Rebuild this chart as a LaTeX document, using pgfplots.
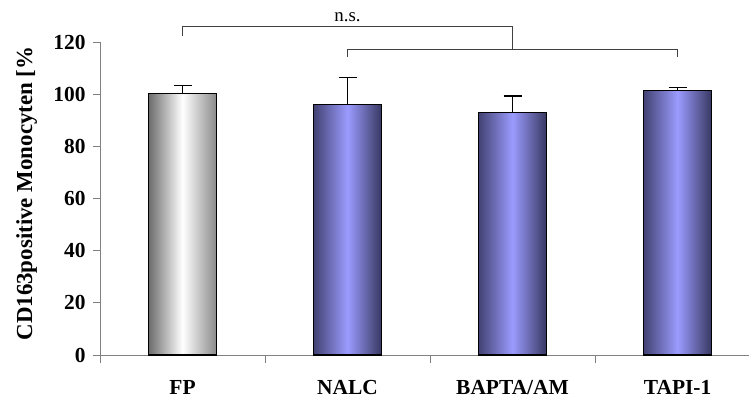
\documentclass[border=0pt]{standalone}
\usepackage{pgfplots}
\pgfplotsset{compat=1.18}
\usepackage{fontspec}
\setmainfont{Liberation Serif}
\usetikzlibrary{calc}
\definecolor{axgray}{RGB}{128,128,128}
\definecolor{bluemid}{RGB}{155,155,255}
\definecolor{blueedge}{RGB}{66,66,115}
\definecolor{grayedge}{RGB}{108,108,108}
\begin{document}
\begin{tikzpicture}
\begin{axis}[
  scale only axis, width=649bp, height=313bp,
  xmin=-0.5, xmax=3.433, ymin=0, ymax=120,
  clip=false,
  axis x line=bottom, axis y line=left,
  axis line style={-, draw=axgray, line width=1pt},
  tick align=outside,
  major tick length=7bp,
  ytick={0,20,...,120},
  y tick style={draw=axgray, line width=1pt},
  xtick={0,1,2,3},
  xticklabels={FP,NALC,BAPTA/AM,TAPI-1},
  x tick style={draw=none},
  extra x ticks={-0.5,0.5,1.5,2.5},
  extra x tick labels={},
  extra x tick style={major tick length=8bp, x tick style={draw=axgray, line width=1pt}},
  /pgf/number format/assume math mode=true,
  xticklabel style={font=\fontsize{21.5}{25}\selectfont\bfseries, yshift=-15bp},
  yticklabel style={font=\fontsize{21.5}{25}\selectfont\bfseries, xshift=-4bp},
  ylabel={CD163positive Monocyten [\%},
  ylabel style={font=\fontsize{23}{27}\selectfont\bfseries, at={(axis description cs:-0.113,0.516)}, anchor=center, rotate=0},
  bar width=68bp,
]
\addplot[ybar, bar shift=0pt, draw=none, forget plot,
  left color=grayedge, right color=grayedge!80!white, middle color=white]
  coordinates {(0,100.2)};
\addplot[ybar, bar shift=0pt, draw=none, forget plot,
  left color=blueedge, right color=blueedge!85!black, middle color=bluemid]
  coordinates {(1,96.0)};
\addplot[ybar, bar shift=0pt, draw=none, forget plot,
  left color=blueedge, right color=blueedge!85!black, middle color=bluemid]
  coordinates {(2,92.9)};
\addplot[ybar, bar shift=0pt, draw=none, forget plot,
  left color=blueedge, right color=blueedge!85!black, middle color=bluemid]
  coordinates {(3,101.5)};
\addplot[ybar, bar shift=0pt, draw=black, fill=none, line width=1.5pt,
  error bars/.cd, y dir=plus, y explicit,
  error bar style={black, line width=1.3pt},
  error mark options={rotate=90, mark size=9bp, black, line width=1.3pt}]
  coordinates {(0,100.2) +- (0,3.0) (1,96.0) +- (0,10.4) (2,92.9) +- (0,6.4) (3,101.5) +- (0,1.0)};
\draw[black!75, line width=0.9pt] (axis cs:0,122.3) -- (axis cs:0,125.8) -- (axis cs:2,125.8) -- (axis cs:2,117.2);
\draw[black!75, line width=0.9pt] (axis cs:1,114.2) -- (axis cs:1,117.2) -- (axis cs:3,117.2) -- (axis cs:3,114.2);
\node[font=\fontsize{19}{22}\selectfont, inner sep=0pt, anchor=base] at (axis cs:1,128) {n.s.};
\end{axis}
\pgfresetboundingbox
\path[use as bounding box] ($(current axis.south west)+(-100bp,-44bp)$) rectangle ($(current axis.south west)+(649bp,355bp)$);
\end{tikzpicture}
\end{document}
